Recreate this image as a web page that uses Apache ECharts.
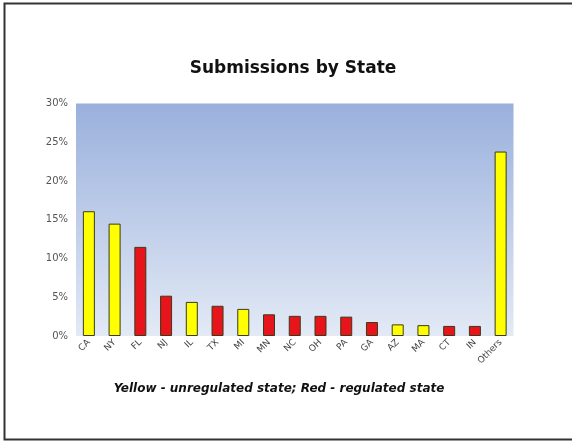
<!DOCTYPE html>
<html><head><meta charset="utf-8">
<script src="https://cdn.jsdelivr.net/npm/echarts@6/dist/echarts.min.js"></script>
<style>html,body{margin:0;padding:0;background:#fff}#c{width:572px;height:445px}</style>
</head><body><div id="c"></div>
<script>
const states = ['CA','NY','FL','NJ','IL','TX','MI','MN','NC','OH','PA','GA','AZ','MA','CT','IN','Others'];
const shares = [16.1,14.5,11.5,5.2,4.4,3.9,3.5,2.8,2.6,2.6,2.5,1.8,1.5,1.4,1.3,1.3,23.8];
const regulated = [false,false,true,true,false,true,false,true,true,true,true,true,false,false,true,true,false];
const yTicks = [0,5,10,15,20,25,30];

const chart = echarts.init(document.getElementById('c'));
chart.setOption({
  animation:false,
  graphic:[
    {type:'rect',shape:{x:4.5,y:3.5,width:600,height:436},style:{fill:'none',stroke:'#333',lineWidth:2},silent:true},
    {type:'text',x:293,y:69,style:{text:'Submissions by State',textAlign:'center',textVerticalAlign:'middle',
      font:'bold 17px "DejaVu Sans"',fill:'#111'}},
    {type:'text',x:279,y:389,style:{text:'Yellow - unregulated state; Red - regulated state',textAlign:'center',textVerticalAlign:'middle',
      font:'italic bold 12px "DejaVu Sans"',fill:'#111'}}
  ],
  grid:{left:76,top:103.5,width:437.5,height:232.5,show:true,borderWidth:0,
    backgroundColor:{type:'linear',x:0,y:0,x2:0,y2:1,colorStops:[{offset:0,color:'#9AB0DC'},{offset:1,color:'#E3EAF6'}]}},
  xAxis:{type:'category',data:states,axisLine:{show:false},axisTick:{show:false},
    axisLabel:{rotate:45,margin:5,fontFamily:'DejaVu Sans',fontSize:9,color:'#444',interval:0}},
  yAxis:{type:'value',min:0,max:30,interval:5,splitLine:{show:false},axisLine:{show:false},axisTick:{show:false},
    axisLabel:{formatter:v=>yTicks.includes(v)?v+'%':'',fontFamily:'DejaVu Sans',fontSize:10,color:'#555',margin:8}},
  series:[{type:'bar',barWidth:12,
    data:shares.map((v,i)=>({value:v,itemStyle:{color:regulated[i]?'#E8141C':'#FFFF00',borderColor:'#3a3a1a',borderWidth:1}}))}]
});
</script></body></html>
